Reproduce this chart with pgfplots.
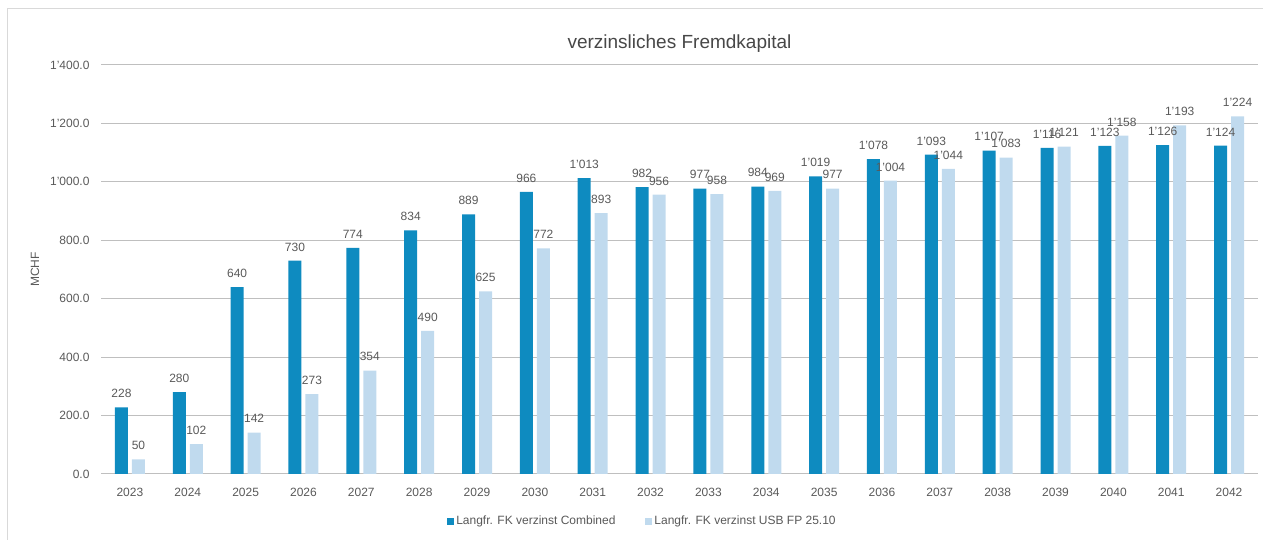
\documentclass[border=0pt]{standalone}
\usepackage{fontspec}
\setmainfont{Liberation Sans}
\usepackage{pgfplots}
\pgfplotsset{compat=1.18}
\definecolor{darkbar}{HTML}{0E8BC0}
\definecolor{lightbar}{HTML}{C0DAEE}
\definecolor{txt}{HTML}{595959}
\definecolor{grid}{HTML}{D9D9D9}
\begin{document}
\begin{tikzpicture}[x=1pt,y=1pt]
\useasboundingbox (0,0) rectangle (1263,540);
\draw[grid, line width=1pt] (7,0) -- (7,531) -- (1263,531);
\begin{axis}[
  at={(101pt,66pt)}, anchor=south west,
  scale only axis, width=1157pt, height=409pt,
  ybar=4pt, bar width=13pt,
  xmin=-0.5, xmax=19.5, ymin=0, ymax=1400,
  xtick={0,...,19},
  xticklabels={2023,2024,2025,2026,2027,2028,2029,2030,2031,2032,2033,2034,2035,2036,2037,2038,2039,2040,2041,2042},
  ytick={0,200,...,1400},
  major tick length=0pt,
  axis line style={draw=none},
  xmajorgrids=false, ymajorgrids=true,
  major grid style={grid, line width=1pt},
  tick label style={font=\fontsize{12}{14}\selectfont, text=txt},
  /pgf/number format/assume math mode=true,
  yticklabel={\pgfmathprintnumber[fixed, fixed zerofill, precision=1, 1000 sep={'}]{\tick}},
  yticklabel style={xshift=-8pt},
  xticklabel style={yshift=-11pt},
  ylabel={MCHF},
  every axis y label/.style={at={(axis description cs:-0.057,0.5)}, rotate=90, anchor=center, font=\fontsize{12}{14}\selectfont, text=txt},
  title={verzinsliches Fremdkapital},
  title style={at={(axis description cs:0.5,1.037)}, anchor=center, font=\fontsize{19}{22}\selectfont, text=txt!80!black},
  nodes near coords,
  every node near coord/.append style={font=\fontsize{12}{14}\selectfont, text=txt, /pgf/number format/fixed, /pgf/number format/precision=0, /pgf/number format/1000 sep={'}, /pgf/number format/assume math mode=true, yshift=6pt},
  legend style={at={(axis description cs:0.468,-0.115)}, anchor=center, draw=none, legend columns=2, font=\fontsize{12}{14}\selectfont, text=txt, /tikz/every even column/.append style={column sep=28pt}},
  legend image code/.code={\fill[#1] (0pt,-3.5pt) rectangle (7pt,3.5pt);},
]
\addplot[fill=darkbar, draw=none] coordinates {
(0,228) (1,280) (2,640) (3,730) (4,774) (5,834) (6,889) (7,966) (8,1013) (9,982)
(10,977) (11,984) (12,1019) (13,1078) (14,1093) (15,1107) (16,1116) (17,1123) (18,1126) (19,1124)};
\addplot[fill=lightbar, draw=none] coordinates {
(0,50) (1,102) (2,142) (3,273) (4,354) (5,490) (6,625) (7,772) (8,893) (9,956)
(10,958) (11,969) (12,977) (13,1004) (14,1044) (15,1083) (16,1121) (17,1158) (18,1193) (19,1224)};
\legend{Langfr. FK verzinst Combined, Langfr. FK verzinst USB FP 25.10}
\end{axis}
\end{tikzpicture}
\end{document}
